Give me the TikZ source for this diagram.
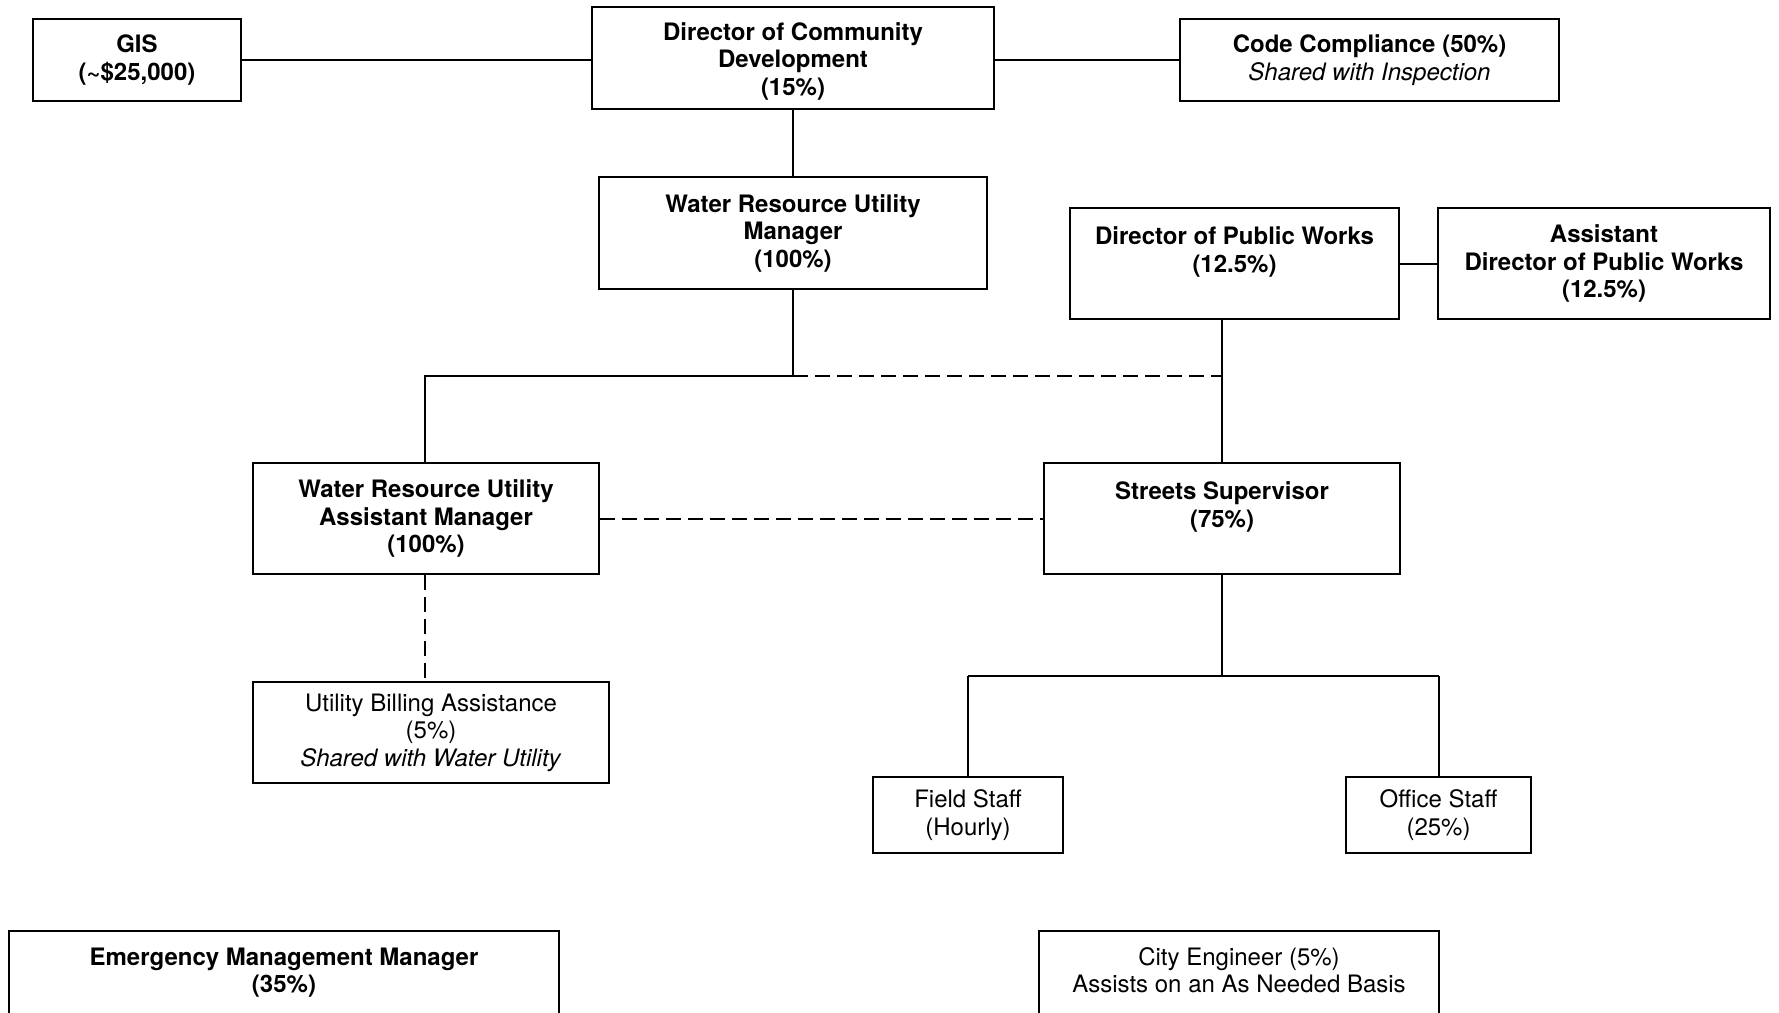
\documentclass[tikz,border=0pt]{standalone}
\usepackage{fontspec}
\setmainfont{TeX Gyre Heros}
\begin{document}
\begin{tikzpicture}[x=1pt,y=-1pt,
  box/.style={draw, line width=2pt, align=center, inner sep=0pt, font=\fontsize{24}{27.5}\selectfont},
  bbox/.style={box, font=\fontsize{24}{27.5}\selectfont\bfseries},
  conn/.style={line width=2pt},
  dconn/.style={line width=2pt, dash pattern=on 15pt off 7pt}]
\useasboundingbox (0,0) rectangle (1779,1012);
\fill[white] (0,0) rectangle (1779,1012);
% top row
\node[bbox, minimum width=208, minimum height=82] (gis) at (137,60) {GIS\\(\textasciitilde\$25,000)};
\node[bbox, minimum width=402, minimum height=102] (dcd) at (793,58) {\rule{0pt}{24pt}Director of Community\\Development\\(15\%)};
\node[box, minimum width=379, minimum height=82] (cc) at (1369.5,60) {\textbf{Code Compliance (50\%)}\\\textit{Shared with Inspection}};
% second row
\node[bbox, minimum width=388, minimum height=112] (wrum) at (793,233) {Water Resource Utility\\Manager\\(100\%)};
\node[bbox, minimum width=329, minimum height=111] (dpw) at (1234.5,263.5) {Director of Public Works\\(12.5\%)\\~};
\node[bbox, minimum width=332, minimum height=111] (adpw) at (1604,263.5) {Assistant\\Director of Public Works\\(12.5\%)};
% third row
\node[bbox, minimum width=346, minimum height=111] (wruam) at (426,518.5) {Water Resource Utility\\Assistant Manager\\(100\%)};
\node[bbox, minimum width=356, minimum height=111] (ss) at (1222,518.5) {Streets Supervisor\\(75\%)\\~};
% fourth row
\node[box, minimum width=356, minimum height=101] (ub) at (431,732.5) {Utility Billing Assistance\\(5\%)\\\textit{Shared with Water Utility}};
\node[box, minimum width=190, minimum height=76] (fs) at (968,815) {Field Staff\\(Hourly)};
\node[box, minimum width=185, minimum height=76] (os) at (1438.5,815) {Office Staff\\(25\%)};
% bottom row (cut off)
\node[bbox, minimum width=550, minimum height=106] (em) at (284,984) {Emergency Management Manager\\(35\%)\\~};
\node[box, minimum width=400, minimum height=106] (ce) at (1239,984) {City Engineer (5\%)\\Assists on an As Needed Basis\\~};
% junctions
\coordinate (j) at (793,376);
\coordinate (jl) at (425,376);
\coordinate (jr) at (1222,376);
\coordinate (sj) at (1222,676);
\coordinate (sl) at (968,676);
\coordinate (sr) at (1438.5,676);
% connectors
\draw[conn] (gis.east) -- (gis.east -| dcd.west);
\draw[conn] (dcd.east |- cc.west) -- (cc.west);
\draw[conn] (dcd.south) -- (wrum.north);
\draw[conn] (dpw.east |- adpw.west) -- (adpw.west);
\draw[conn] (wrum.south) -- (j) -- (jl) -- (jl |- wruam.north);
\draw[dconn] (j) -- (jr);
\draw[conn] (jr |- dpw.south) -- (jr) -- (ss.north);
\draw[dconn] (wruam.east |- ss.west) -- (ss.west);
\draw[dconn] (jl |- wruam.south) -- (jl |- ub.north);
\draw[conn] (ss.south) -- (sj);
\draw[conn] (sl) -- (sr);
\draw[conn] (sl) -- (fs.north);
\draw[conn] (sr) -- (os.north);
\end{tikzpicture}
\end{document}
